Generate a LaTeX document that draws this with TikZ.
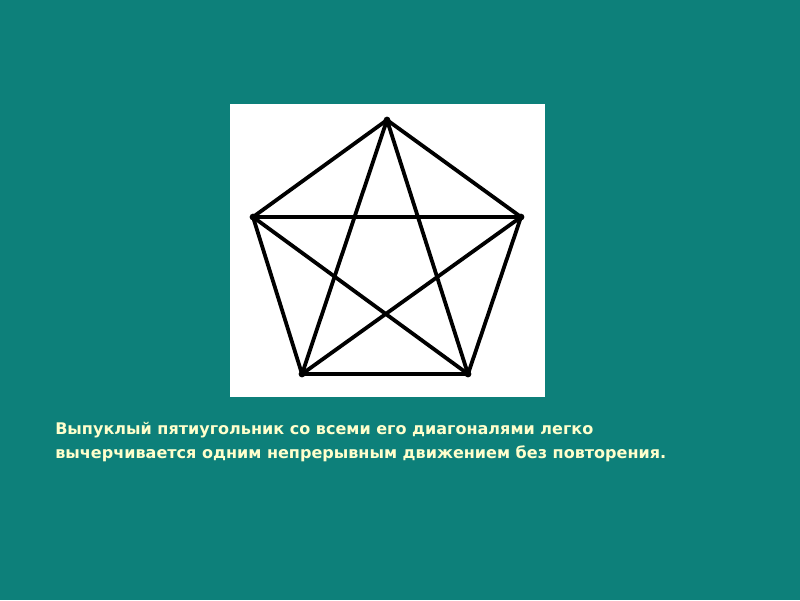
\documentclass[tikz,border=0pt]{standalone}
\usepackage{fontspec}
\setmainfont{DejaVu Sans}
\definecolor{fond}{RGB}{13,128,122}
\definecolor{texte}{RGB}{255,255,204}

\begin{document}
\begin{tikzpicture}[x=0.025cm,y=-0.025cm]
\fill [fond] (0,0) rectangle (800,600);
\fill [white] (230,104) rectangle (545,397);
% sommets du pentagone
\coordinate (A) at (387,120);
\coordinate (B) at (521,217);
\coordinate (C) at (468,374);
\coordinate (D) at (302,374);
\coordinate (E) at (253,217);
\draw [line width=2.7pt, line join=round, line cap=round] (A)--(B)--(C)--(D)--(E)--cycle;
\foreach \p/\q in {A/C,A/D,B/D,B/E,C/E}
  \draw [line width=2.7pt, line cap=round] (\p)--(\q);
\foreach \p in {A,B,C,D,E}
  \fill (\p) circle (2.4pt);
\node [anchor=base west, inner sep=0, texte, font=\bfseries\fontsize{11.4}{13}\selectfont] (l1) at (55,434) {Выпуклый пятиугольник со всеми его диагоналями легко};
\node [anchor=base west, inner sep=0, texte, font=\bfseries\fontsize{11.4}{13}\selectfont] (l2) at (55,458) {вычерчивается одним непрерывным движением без повторения.};
\end{tikzpicture}
\end{document}
